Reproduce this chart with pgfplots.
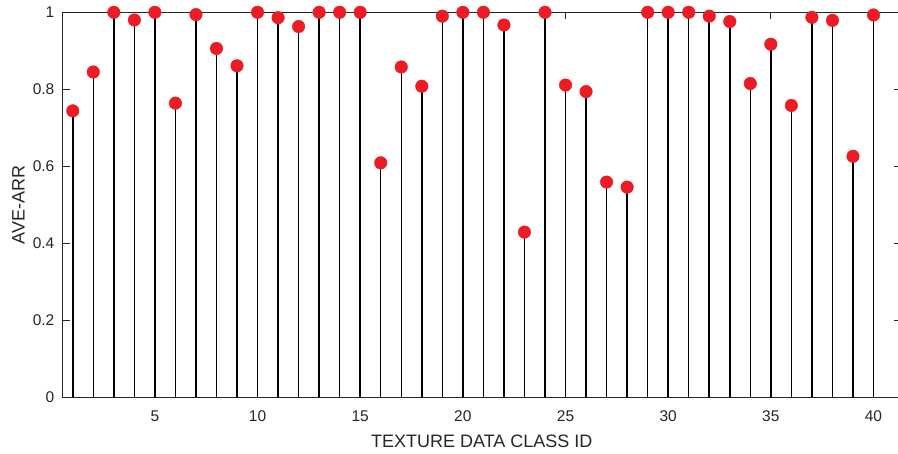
\documentclass[border=0pt]{standalone}
\usepackage{pgfplots}
\pgfplotsset{compat=1.18}
\usepackage{fontspec}
\setmainfont{Liberation Sans}
\definecolor{txt}{RGB}{38,38,38}
\definecolor{mred}{RGB}{236,28,36}
\pgfplotstableread{
x y
1 0.744
2 0.845
3 1.0
4 0.980
5 1.0
6 0.764
7 0.994
8 0.906
9 0.861
10 1.0
11 0.986
12 0.963
13 1.0
14 1.0
15 1.0
16 0.609
17 0.858
18 0.808
19 0.990
20 1.0
21 1.0
22 0.967
23 0.429
24 1.0
25 0.811
26 0.794
27 0.559
28 0.546
29 1.0
30 1.0
31 1.0
32 0.990
33 0.976
34 0.815
35 0.917
36 0.758
37 0.987
38 0.979
39 0.626
40 0.993
}\datatable
\begin{document}
\begin{tikzpicture}
\begin{axis}[
  name=ax,
  scale only axis, width=838.5pt, height=385pt,
  xmin=0.5, xmax=41.34, ymin=0, ymax=1,
  xtick={5,10,15,20,25,30,35,40},
  ytick={0,0.2,0.4,0.6,0.8,1},
  tick align=inside, major tick length=7pt,
  axis line style={line width=0.8pt, color=txt},
  tick style={line width=0.8pt, color=txt},
  /pgf/number format/assume math mode=true,
  ticklabel style={font=\fontsize{15.5}{18}\selectfont, text=txt},
  xticklabel style={anchor=center, yshift=-19pt},
  yticklabel style={anchor=east, inner sep=0pt, xshift=-8pt},
  xlabel={TEXTURE DATA CLASS ID},
  ylabel={AVE-ARR},
  label style={font=\fontsize{18}{21}\selectfont, text=txt},
  xlabel style={at={(axis description cs:0.5,-0.1143)}, anchor=center},
  ylabel style={at={(axis description cs:-0.0525,0.5)}, anchor=center},
  clip=false,
]
\addplot[only marks, mark=*, mark size=6.3pt, mark options={fill=mred, draw=mred}] table[x=x, y=y] {\datatable};
\addplot[ycomb, black, line width=1.5pt, no marks] table[x=x, y=y] {\datatable};
\end{axis}
\pgfresetboundingbox
\path[use as bounding box] ([xshift=-62.5pt,yshift=-55.7pt]ax.south west) rectangle ([xshift=-3pt,yshift=12.3pt]ax.north east);
\end{tikzpicture}
\end{document}
